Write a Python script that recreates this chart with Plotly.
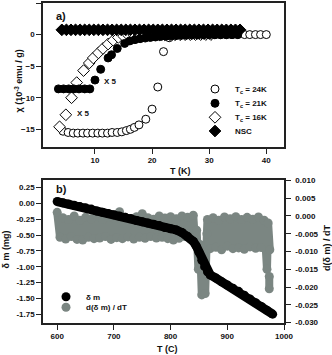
import plotly.graph_objects as go

# ---------------- Panel a data ----------------
T_24 = [4.4, 5.3, 6.2, 7.0, 7.9, 8.7, 9.6, 10.5, 11.3, 12.2, 13.0, 13.9, 14.7, 15.5, 16.2,
        16.9, 17.7, 18.9, 20.0, 21.0, 22.0, 23.0, 24.0, 25.0, 26.0, 27.0, 28.0, 29.0, 30.0,
        31.0, 32.0, 33.0, 34.0, 35.0, 36.2, 37.1, 38.1, 39.0, 40.0]
chi_24 = [-15.3, -15.5, -15.6, -15.6, -15.6, -15.6, -15.6, -15.6, -15.6, -15.6, -15.5, -15.5,
          -15.4, -15.2, -15.0, -14.7, -14.3, -13.4, -11.8, -8.3, -2.7, -0.5, -0.2, -0.1, 0.0,
          0.0, 0.0, 0.0, 0.0, 0.0, 0.0, 0.0, 0.0, 0.0, 0.0, 0.0, 0.0, 0.0, 0.0]

T_21 = [3.6, 4.5, 5.4, 6.3, 7.2, 8.2, 9.1, 10.0, 11.0, 12.3, 12.9, 13.9, 15.2, 16.1, 17.0,
        17.9, 18.8, 19.7, 20.6, 21.5, 22.4, 23.3, 24.2, 25.1, 26.0, 27.0, 28.0, 29.0, 30.0,
        31.0, 32.0, 33.0, 34.0, 35.0]
chi_21 = [-8.6, -8.6, -8.6, -8.6, -8.6, -8.6, -8.6, -7.2, -5.5, -3.7, -3.2, -2.2, -1.4, -1.0,
          -0.8, -0.65, -0.55, -0.45, -0.38, -0.3, -0.25, -0.2, -0.15, -0.12, -0.1, -0.08,
          -0.06, -0.05, -0.04, -0.03, -0.02, -0.02, -0.01, 0.0]

T_16 = [3.8, 4.9, 5.9, 6.8, 8.0, 9.0, 9.7, 10.6, 11.4, 12.3, 13.2, 14.1, 15.0, 15.9, 16.8,
        17.7, 18.6, 19.5, 20.4, 21.3, 22.2, 23.1, 24.0, 24.9, 25.8, 26.7, 27.6, 28.5, 29.4,
        30.3]
chi_16 = [-14.6, -12.7, -10.0, -7.6, -5.7, -4.5, -3.7, -2.9, -2.2, -1.5, -0.9, -0.45, -0.25,
          -0.15, -0.1, -0.1, -0.08, -0.06, -0.05, -0.04, -0.03, -0.03, -0.02, -0.02, -0.01,
          -0.01, 0.0, 0.0, 0.0, 0.0]

T_nsc = [4.2, 5.0, 5.8, 6.6, 7.4, 8.2, 9.0, 9.8, 10.6, 11.4, 12.2, 13.0, 13.8, 14.6, 15.4,
         16.2, 17.0, 17.8, 18.6, 19.4, 20.2, 21.0, 21.8, 22.6, 23.4, 24.2, 25.0, 25.8, 26.6,
         27.4, 28.2, 29.0, 29.8, 30.6, 31.4, 32.2, 33.0, 33.8, 34.6, 35.4]
chi_nsc = [0.75, 0.75, 0.75, 0.75, 0.75, 0.75, 0.75, 0.75, 0.75, 0.75, 0.75, 0.75, 0.75, 0.75,
           0.75, 0.75, 0.75, 0.75, 0.75, 0.75, 0.75, 0.75, 0.75, 0.75, 0.75, 0.75, 0.75, 0.75,
           0.75, 0.75, 0.75, 0.75, 0.75, 0.75, 0.75, 0.75, 0.75, 0.75, 0.75, 0.75]

names_a = ["T<sub>c</sub> = 24K", "T<sub>c</sub> = 21K", "T<sub>c</sub> = 16K", "NSC"]
ticks_a_x = [10, 20, 30, 40]
ticks_a_y = [-15, -10, -5, 0, 5]

# ---------------- Panel b data ----------------
T_dm = [600, 610, 620, 630, 640, 650, 660, 670, 680, 690, 700, 710, 720, 730, 740, 750,
        760, 770, 780, 790, 800, 810, 820, 830, 840, 845, 850, 855, 860, 865, 870, 880,
        890, 900, 910, 920, 930, 940, 950, 960, 970, 980]
dm = [0.03, 0.01, -0.01, -0.03, -0.05, -0.07, -0.09, -0.12, -0.14, -0.16, -0.18, -0.20,
      -0.22, -0.24, -0.27, -0.29, -0.31, -0.33, -0.35, -0.38, -0.40, -0.42, -0.46, -0.52,
      -0.60, -0.67, -0.77, -0.90, -1.00, -1.08, -1.13, -1.18, -1.24, -1.29, -1.34, -1.39,
      -1.45, -1.51, -1.57, -1.63, -1.69, -1.75]

T_d = [600, 605, 610, 615, 620, 625, 630, 635, 640, 645, 650, 655, 660, 665, 670, 675,
       680, 685, 690, 695, 700, 705, 710, 715, 720, 725, 730, 735, 740, 745, 750, 755,
       760, 765, 770, 775, 780, 785, 790, 795, 800, 805, 810, 815, 820, 825, 830, 835,
       840, 843, 846, 849, 852, 855, 858, 861, 864, 865, 870, 875, 880, 885, 890, 895,
       900, 905, 910, 915, 920, 925, 930, 935, 940, 945, 950, 955, 960, 965, 970, 972,
       975, None, 974, 974]
d_dm = [0.0010, -0.0060, -0.0005, -0.0065, -0.0010, -0.0058, 0.0000, -0.0066, -0.0012,
        -0.0068, -0.0004, -0.0060, -0.0008, -0.0064, 0.0000, -0.0062, -0.0010, -0.0058,
        -0.0003, -0.0066, -0.0006, -0.0061, 0.0012, -0.0064, -0.0004, -0.0059, -0.0010,
        -0.0065, -0.0002, -0.0060, 0.0006, -0.0063, -0.0005, -0.0058, -0.0009, -0.0062,
        0.0000, -0.0060, -0.0006, -0.0064, -0.0002, -0.0068, -0.0008, -0.0063, 0.0000,
        -0.0058, -0.0004, -0.0060, 0.0002, -0.0072, -0.0040, -0.0150, -0.0080, -0.0222,
        -0.0110, -0.0218, -0.0050, -0.0010, -0.0092, -0.0005, -0.0088, -0.0012, -0.0095,
        -0.0003, -0.0085, -0.0008, -0.0092, -0.0002, -0.0090, -0.0010, -0.0094, -0.0004,
        -0.0087, -0.0009, -0.0091, -0.0003, -0.0089, -0.0012, -0.0150, -0.0020, -0.0095,
        None, -0.0170, -0.0205]

names_b = ["δ m", "d(δ m) / dT"]
ticks_b_x = [600, 700, 800, 900, 1000]
ticks_b_left = [0.25, 0.0, -0.25, -0.5, -0.75, -1.0, -1.25, -1.5, -1.75]
ticks_b_left_text = ["0.25", "0.00", "-0.25", "-0.50", "-0.75", "-1.00", "-1.25", "-1.50", "-1.75"]
ticks_b_right = [0.010, 0.005, 0.0, -0.005, -0.010, -0.015, -0.020, -0.025, -0.030]
ticks_b_right_text = ["0.010", "0.005", "0.000", "-0.005", "-0.010", "-0.015", "-0.020",
                      "-0.025", "-0.030"]

BLACK = "#000000"
GRAY = "#7b8682"
AX = "#222222"
FONT = "Arial"

fig = go.Figure()

# panel a traces
fig.add_trace(go.Scatter(x=T_24, y=chi_24, mode="markers", name=names_a[0], legend="legend",
                         marker=dict(symbol="circle", size=8, color="white",
                                     line=dict(color=BLACK, width=1)),
                         xaxis="x", yaxis="y"))
fig.add_trace(go.Scatter(x=T_16, y=chi_16, mode="markers", name=names_a[2], legend="legend3",
                         marker=dict(symbol="diamond", size=9, color="white",
                                     line=dict(color=BLACK, width=1)),
                         xaxis="x", yaxis="y"))
fig.add_trace(go.Scatter(x=T_21, y=chi_21, mode="markers", name=names_a[1], legend="legend2",
                         marker=dict(symbol="circle", size=8, color=BLACK,
                                     line=dict(color=BLACK, width=1)),
                         xaxis="x", yaxis="y"))
fig.add_trace(go.Scatter(x=T_nsc, y=chi_nsc, mode="markers", name=names_a[3], legend="legend4",
                         marker=dict(symbol="diamond", size=9, color=BLACK,
                                     line=dict(color=BLACK, width=1)),
                         xaxis="x", yaxis="y"))

# panel b traces: gray on base axis (right side), black on overlay (left side) so black is on top
fig.add_trace(go.Scatter(x=T_d, y=d_dm, mode="lines+markers", showlegend=False,
                         line=dict(color=GRAY, width=8), marker=dict(size=9, color=GRAY),
                         connectgaps=False, xaxis="x2", yaxis="y2"))
fig.add_trace(go.Scatter(x=T_dm, y=dm, mode="lines+markers", showlegend=False,
                         line=dict(color=BLACK, width=9), marker=dict(size=9, color=BLACK),
                         xaxis="x2", yaxis="y3"))
# legend entries for panel b
fig.add_trace(go.Scatter(x=[None], y=[None], mode="markers", name=names_b[0], legend="legend5",
                         marker=dict(size=9, color=BLACK), xaxis="x2", yaxis="y3"))
fig.add_trace(go.Scatter(x=[None], y=[None], mode="markers", name=names_b[1], legend="legend6",
                         marker=dict(size=9, color=GRAY), xaxis="x2", yaxis="y2"))

tickfont = dict(family=FONT, size=8, color="#111111", weight="bold")
axcommon = dict(showline=True, linecolor=AX, linewidth=1.5, ticks="outside", ticklen=5,
                tickwidth=1.2, tickcolor=AX, showgrid=False, zeroline=False,
                tickfont=tickfont, automargin=False)

L, R, T, B = 43, 48, 3, 32
W, H = 332, 355
PW = W - L - R
PH = H - T - B


def px2x(px):
    return (px - L) / PW


def py2y(py):
    return (H - B - py) / PH


legfont = dict(family=FONT, size=8, color="#111111", weight="bold")


def leg(xp, yp):
    return dict(x=px2x(xp), y=py2y(yp), xanchor="left", yanchor="middle",
                bgcolor="rgba(0,0,0,0)", borderwidth=0, font=legfont,
                itemwidth=30, tracegroupgap=0)


fig.update_layout(
    width=W, height=H,
    margin=dict(l=L, r=R, t=T, b=B, autoexpand=False),
    paper_bgcolor="white", plot_bgcolor="white",
    font=dict(family=FONT, size=8, color="#111111"),
    xaxis=dict(domain=[0, 1], anchor="y", range=[0.9, 43.1], tickvals=ticks_a_x,
               mirror=True, **axcommon),
    yaxis=dict(domain=[py2y(147), 1], anchor="x", range=[-17.8, 5.0],
               tickvals=ticks_a_y, mirror=True, **axcommon),
    xaxis2=dict(domain=[0, 1], anchor="y2", range=[575, 1000],
                tickvals=ticks_b_x, mirror=True, **axcommon),
    yaxis2=dict(domain=[0, py2y(180)], anchor="x2", side="right", range=[-0.0301, 0.0101],
                tickvals=ticks_b_right, ticktext=ticks_b_right_text, ticklabelstandoff=3,
                **axcommon),
    yaxis3=dict(domain=[0, py2y(180)], anchor="x2", overlaying="y2", side="left",
                range=[-1.89, 0.37], tickvals=ticks_b_left, ticktext=ticks_b_left_text,
                **axcommon),
    legend=leg(195, 89),
    legend2=leg(195, 103.3),
    legend3=leg(195, 117.3),
    legend4=leg(195, 131),
    legend5=leg(46, 296.7),
    legend6=leg(46, 307.3),
)

ann = []
titlefont = dict(family=FONT, size=9, color="#111111", weight="bold")


def pa(text, xp, yp, font, angle=0):
    return dict(text=text, x=px2x(xp), y=py2y(yp), xref="paper", yref="paper",
                xanchor="center", yanchor="middle", showarrow=False, textangle=angle,
                font=font)


labfont = dict(family=FONT, size=11, color="#111111", weight="bold")
ann.append(pa("a)", 61, 16, labfont))
ann.append(pa("b)", 61, 189, labfont))
ann.append(dict(text="X 5", x=8.0, y=-12.5, xref="x", yref="y", showarrow=False,
                xanchor="center", yanchor="middle", font=legfont))
ann.append(dict(text="X 5", x=12.75, y=-7.5, xref="x", yref="y", showarrow=False,
                xanchor="center", yanchor="middle", font=legfont))
ann.append(pa("χ (10<sup>-3</sup> emu / g)", 18.5, 81, titlefont, -90))
ann.append(pa("T (K)", 180, 171, titlefont))
ann.append(pa("δ m (mg)", 5.5, 250, titlefont, -90))
ann.append(pa("d(δ m) / dT", 327, 248, titlefont, -90))
ann.append(pa("T (C)", 167.5, 349, titlefont))
fig.update_layout(annotations=ann)

fig.write_html("out.html", config={"displayModeBar": False},
               post_script="document.body.style.margin='0';document.body.style.overflow='hidden';")
